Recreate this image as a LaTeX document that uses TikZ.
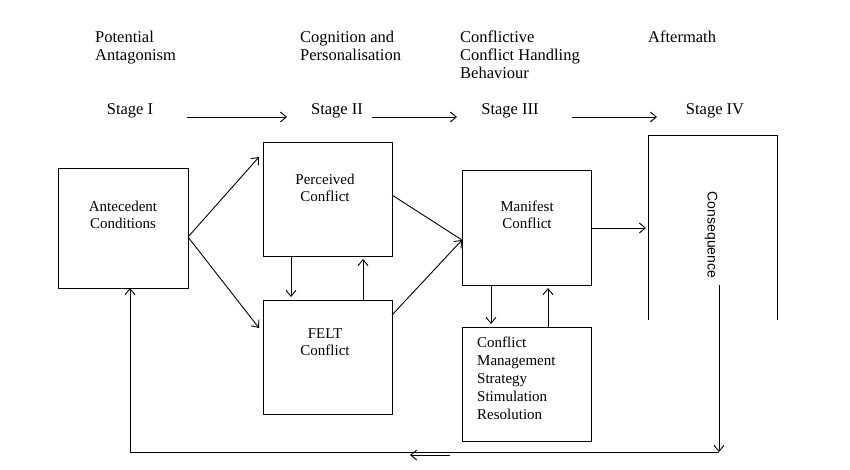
\documentclass[tikz,border=0pt]{standalone}
\usepackage{fontspec}
\setmainfont{Liberation Serif}
\newfontfamily\sansf{Liberation Sans}
\begin{document}
\begin{tikzpicture}[x=1pt,y=-1pt,
  box/.style={draw,line width=1pt},
  arr/.style={->,line width=0.9pt,>={Straight Barb[length=6pt,width=10pt]}},
  hd/.style={font=\fontsize{16.5}{18}\selectfont,align=left,anchor=north west,inner sep=0},
  st/.style={font=\fontsize{16.5}{18}\selectfont,inner sep=1pt},
  bt/.style={font=\fontsize{15}{17}\selectfont,align=center}]
\useasboundingbox (0,0) rectangle (850,469);
\usetikzlibrary{arrows.meta}
\node[hd] (h1) at (95,31) {Potential\\Antagonism};
\node[hd] (h2) at (300,31) {Cognition and\\Personalisation};
\node[hd] (h3) at (460,31) {Conflictive\\Conflict Handling\\Behaviour};
\node[hd] (h4) at (648,31) {Aftermath};
\node[st] (s1) at (130,111) {Stage I};
\node[st] (s2) at (337,111) {Stage II};
\node[st] (s3) at (510,111) {Stage III};
\node[st] (s4) at (715,111) {Stage IV};
\coordinate (a1s) at (187,117); \coordinate (a1e) at (287,117);
\coordinate (a2s) at (372,117); \coordinate (a2e) at (457,117);
\coordinate (a3s) at (572,117); \coordinate (a3e) at (657,117);
\draw[arr] (a1s) -- (a1e);
\draw[arr] (a2s) -- (a2e);
\draw[arr] (a3s) -- (a3e);
\draw[box] (58,168) rectangle (188,288);
\node[bt] (ac) at (123,215) {Antecedent\\Conditions};
\draw[box] (263,142) rectangle (392,256);
\node[bt] (pc) at (325,188) {Perceived\\Conflict};
\draw[box] (263,300) rectangle (392,414);
\node[bt] (fc) at (325,342) {FELT\\Conflict};
\draw[box] (462,170) rectangle (591,285);
\node[bt] (mc) at (527,215) {Manifest\\Conflict};
\draw[box] (462,327) rectangle (591,441);
\node[font=\fontsize{15}{18}\selectfont,align=left,anchor=north west,inner sep=0] (cm) at (477,337) {Conflict\\Management\\Strategy\\Stimulation\\Resolution};
\coordinate (ar) at (188,237);
\coordinate (pl1) at (259,157); \coordinate (fl1) at (259,328);
\draw[arr] (ar) -- (pl1);
\draw[arr] (ar) -- (fl1);
\coordinate (pr) at (392,195); \coordinate (fr) at (392,315); \coordinate (ml) at (462,240);
\draw[line width=0.9pt] (pr) -- (ml);
\draw[arr] (fr) -- (ml);
\draw[arr] (291,256) -- (291,297);
\draw[arr] (363,300) -- (363,259);
\draw[arr] (491,285) -- (491,324);
\draw[arr] (548,327) -- (548,288);
\draw[arr] (591,228) -- (646,228);
\draw[line width=1pt] (648,320) -- (648,135) -- (777,135) -- (777,320);
\node[font=\sansf\fontsize{14}{16}\selectfont,rotate=-90] (cq) at (711,235) {Consequence};
\coordinate (c1) at (719,285); \coordinate (c2) at (719,452);
\coordinate (c3) at (130,452); \coordinate (c4) at (130,288);
\draw[arr] (c1) -- (c2);
\draw[line width=0.9pt] (c2) -- (c3);
\draw[arr] (c3) -- (c4);
\draw[arr] (450,455) -- (410,455);
\end{tikzpicture}
\end{document}
